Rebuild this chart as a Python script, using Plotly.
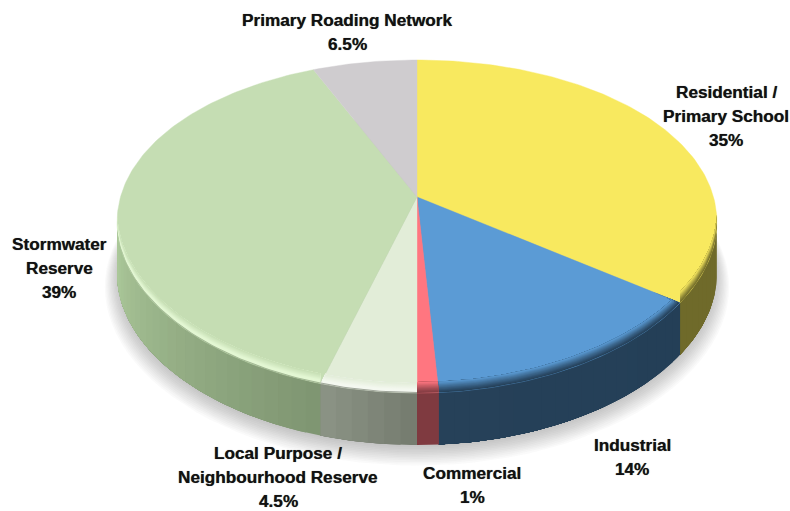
import math
import plotly.graph_objects as go

# Land-use shares, clockwise from twelve o'clock
categories = ["Residential / Primary School", "Industrial", "Commercial",
              "Local Purpose / Neighbourhood Reserve", "Stormwater Reserve",
              "Primary Roading Network"]
shares = [35, 14, 1, 4.5, 39, 6.5]
label_lines = [["Residential /", "Primary School", "35%"],
               ["Industrial", "14%"],
               ["Commercial", "1%"],
               ["Local Purpose /", "Neighbourhood Reserve", "4.5%"],
               ["Stormwater", "Reserve", "39%"],
               ["Primary Roading Network", "6.5%"]]
top_colors = ["#F8E95F", "#5B9BD5", "#FF7680", "#E2EDD8", "#C5DDB3", "#CFCCCF"]
wall_start = ["#6F6A2A", "#243F57", "#7F3A40", "#767D70", "#7F9672", "#CFCCCF"]
wall_end = ["#6F6A2A", "#264159", "#7F3A40", "#8E9688", "#AECB9C", "#CFCCCF"]
bevel_tint = [None, None, None, "#F4F8F0", "#E3F7D3", None]
label_anchor = [(726, 92), (632, 445), (472, 473), (278, 453), (59, 244), (347, 20)]

# Perspective disc: centre, half width, foreshortening and rim thickness
CX, CY = 417, 197
A, B, KX, KY = 296.5, 161.3, 0.15, 0.177
WALL = 52
LINE_GAP = 24.0
FONT = dict(family="Liberation Sans", size=17.2, color="#111111",
            shadow="0 0 0.7px rgba(0,0,0,0.7)")


def project(theta_deg, r=1.0, dy=0.0):
    t = math.radians(theta_deg)
    u, v = r * math.sin(t), r * math.cos(t)
    return CX + A * u / (1 + KX * v), CY - B * v / (1 + KY * v) + dy


def hex_rgb(c):
    return [int(c[i:i + 2], 16) for i in (1, 3, 5)]


def mix(c1, c2, f):
    a, b = hex_rgb(c1), hex_rgb(c2)
    return "#%02X%02X%02X" % tuple(round(a[i] + (b[i] - a[i]) * f) for i in range(3))


def arc(a0, a1, step=1.0, **kw):
    n = max(2, int(abs(a1 - a0) / step) + 1)
    return [project(a0 + (a1 - a0) * i / (n - 1), **kw) for i in range(n)]


fig = go.Figure()


def poly(points, fill, outline=None, width=0.7):
    xs = [p[0] for p in points] + [points[0][0]]
    ys = [p[1] for p in points] + [points[0][1]]
    fig.add_trace(go.Scatter(x=xs, y=ys, mode="lines", fill="toself", fillcolor=fill,
                             line=dict(color=outline or fill, width=width if outline else 0),
                             hoverinfo="skip", showlegend=False))


edges = [0]
for s in shares:
    edges.append(edges[-1] + s * 3.6)

# Soft drop shadow under the disc
for i in range(16):
    r = 1.04 - i * 0.004
    poly(arc(0, 360, 3, r=r, dy=WALL + 11 - i * 0.7), "rgba(70,70,70,0.026)")

# Outer wall, front half only; each step overpaints the rest of its slice
FRONT_A, FRONT_B = 100, 260
for k in range(len(shares)):
    a0, a1 = max(edges[k], FRONT_A), min(edges[k + 1], FRONT_B)
    if a1 <= a0:
        continue
    n = max(1, int((a1 - a0) / 2.5))
    for j in range(n):
        b0 = a0 + (a1 - a0) * j / n
        c = mix(wall_start[k], wall_end[k], j / n)
        poly(arc(b0, a1, 1) + arc(a1, b0, 1, dy=WALL), c)

# Flat top of the disc
for k in range(len(shares)):
    poly([(CX, CY)] + arc(edges[k], edges[k + 1], 1), top_colors[k],
         outline=top_colors[k], width=0.4)


def along_radial(theta, y):
    # x of the slice boundary at a given screen height
    rx, ry = project(theta)
    return CX + (rx - CX) * (y - CY) / (ry - CY)


def lip_curve(k, a0, a1, dy):
    pts = []
    for x, y in arc(a0, a1, 1, dy=dy):
        if edges[k] >= FRONT_A:
            x = min(x, along_radial(edges[k], y))
        if edges[k + 1] <= FRONT_B:
            x = max(x, along_radial(edges[k + 1], y))
        pts.append((x, y))
    return pts


# Rounded lip along the front rim, painted from the edge inwards
for k in range(len(shares)):
    a0, a1 = max(edges[k], FRONT_A), min(edges[k + 1], FRONT_B)
    if a1 <= a0:
        continue
    tint = bevel_tint[k]
    height = 10 if tint else 11
    bands = 10
    for b in range(bands):
        t0 = b / bands
        tm = (b + 0.5) / bands
        if tint:
            c = mix(mix(wall_start[k], tint, min(tm / 0.15, 1)),
                    top_colors[k], max(0, (tm - 0.32) / 0.68))
        else:
            c = mix(wall_start[k], top_colors[k], tm ** 1.2)
        poly(lip_curve(k, a0, a1, -height * t0) + lip_curve(k, a1, a0, -height), c)

# One annotation per text row so the row spacing stays even
annotations = []
for lines, (lx, ly) in zip(label_lines, label_anchor):
    for i, txt in enumerate(lines):
        annotations.append(dict(x=lx, y=ly + i * LINE_GAP, xref="x", yref="y",
                                text="<b>%s</b>" % txt, showarrow=False,
                                xanchor="center", yanchor="middle", font=FONT))

fig.update_layout(width=790, height=511, autosize=False,
                  margin=dict(l=0, r=0, t=0, b=0),
                  paper_bgcolor="white", plot_bgcolor="white",
                  xaxis=dict(range=[0, 790], visible=False, fixedrange=True),
                  yaxis=dict(range=[511, 0], visible=False, fixedrange=True),
                  annotations=annotations)
fig.write_html("out.html", config=dict(displayModeBar=False))
